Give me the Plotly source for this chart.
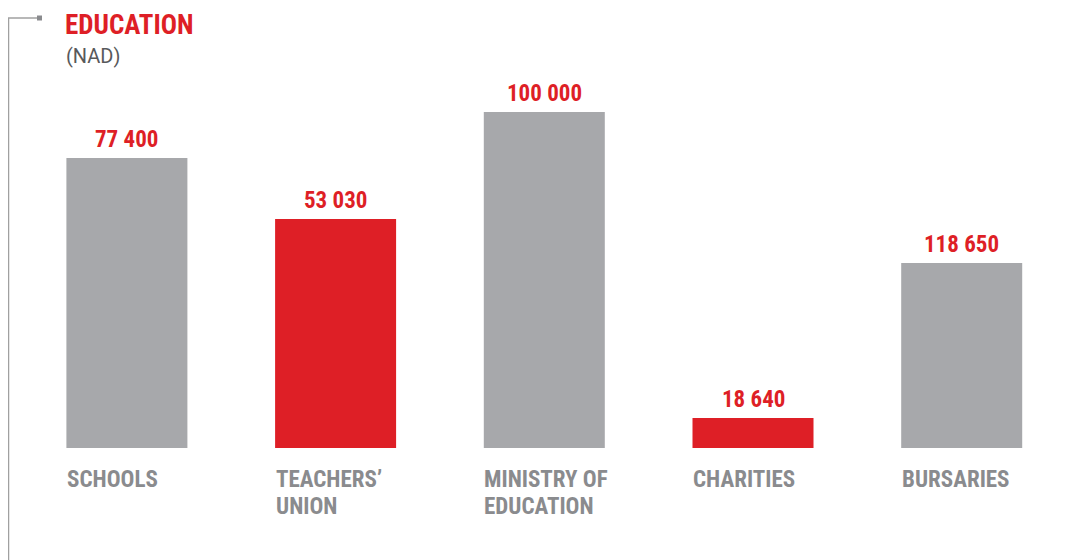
import plotly.graph_objects as go

# Data
categories = ["SCHOOLS", "TEACHERS’<br>UNION", "MINISTRY OF<br>EDUCATION", "CHARITIES", "BURSARIES"]
value_labels = ["77 400", "53 030", "100 000", "18 640", "118 650"]
# visual bar heights as drawn in the source (the source is not to scale)
bar_heights = [290, 229, 336, 30, 185]
highlight = [False, True, False, True, False]

GRAY = "#A7A8AB"
RED = "#DE1F26"
LABEL_GRAY = "#8A8B8E"
FONT = "Liberation Sans Narrow, Roboto Condensed, Roboto, sans-serif"

OFF = 8  # page body margin compensation
W = 1065

def px(xr):
    return (xr - OFF) / W

x_idx = list(range(len(categories)))
colors = [RED if h else GRAY for h in highlight]

fig = go.Figure()
fig.add_trace(go.Bar(
    x=x_idx, y=bar_heights, marker=dict(color=colors, line=dict(width=0)),
    hoverinfo="skip", showlegend=False,
))

annotations = []
for i, (v, c, h) in enumerate(zip(value_labels, categories, bar_heights)):
    annotations.append(dict(
        x=i, y=h, xref="x", yref="y", text=f"<b>{v}</b>", showarrow=False,
        yanchor="bottom", yshift=3,
        font=dict(family=FONT, size=23, color=RED),
    ))
    for k, line in enumerate(c.split("<br>")):
        annotations.append(dict(
            x=i, y=0, xref="x", yref="y", text=f"<b>{line}</b>", showarrow=False,
            xanchor="left", yanchor="top", xshift=-62, yshift=-16 - 27 * k,
            align="left",
            font=dict(family=FONT, size=23, color=LABEL_GRAY),
        ))

annotations.append(dict(
    x=px(64), y=440, xref="paper", yref="y", text="<b>EDUCATION</b>",
    showarrow=False, xanchor="left", yanchor="top", borderpad=0,
    font=dict(family=FONT, size=27, color=RED),
))
annotations.append(dict(
    x=px(64), y=448 - 56, xref="paper", yref="y", text="(NAD)",
    showarrow=False, xanchor="left", yanchor="middle",
    font=dict(family="Roboto, sans-serif", size=20, color="#58595B"),
))

shapes = [
    dict(type="line", xref="paper", yref="y", x0=px(8.5), x1=px(8.5),
         y0=448 - 18, y1=-120, line=dict(color="#A0A0A0", width=1.5)),
    dict(type="line", xref="paper", yref="y", x0=px(8), x1=px(38),
         y0=448 - 18, y1=448 - 18, line=dict(color="#A0A0A0", width=1.5)),
    dict(type="rect", xref="paper", yref="y", x0=px(37), x1=px(42),
         y0=448 - 15.5, y1=448 - 20.5, fillcolor="#8A8B8E", line=dict(width=0)),
    dict(type="line", xref="paper", yref="y", x0=px(1063), x1=px(1063),
         y0=448 - 335, y1=448 - 343, line=dict(color="#8A8B8E", width=1.5)),
]

slot = 208.7
x0 = -(126.9 - OFF) / slot
fig.update_layout(
    width=W, height=560,
    margin=dict(l=0, r=0, t=0, b=0),
    paper_bgcolor="white", plot_bgcolor="white",
    bargap=1 - 121 / slot,
    xaxis=dict(range=[x0, x0 + W / slot], visible=False, fixedrange=True),
    yaxis=dict(range=[-120, 440], visible=False, fixedrange=True),
    annotations=annotations, shapes=shapes,
)

fig.write_html("out.html")
